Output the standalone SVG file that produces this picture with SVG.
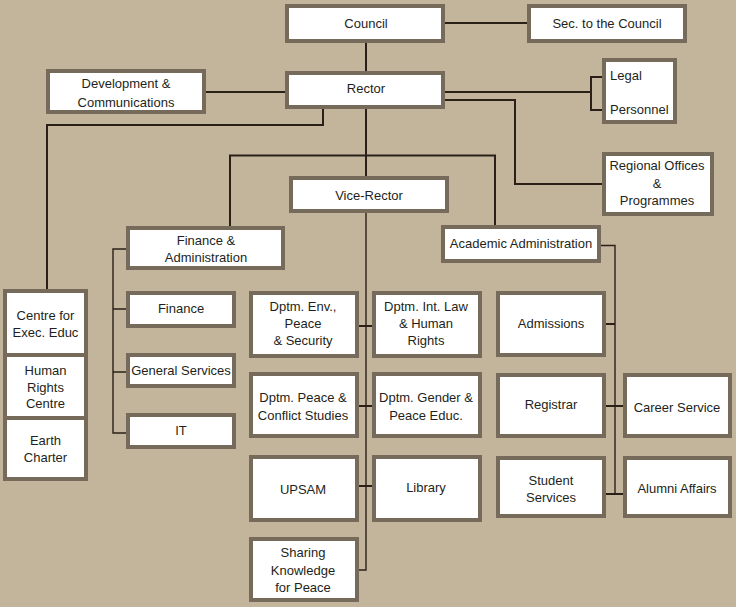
<svg xmlns="http://www.w3.org/2000/svg" width="736" height="607" viewBox="0 0 736 607">
<style>
.b{fill:#fff;stroke:#766a5b;stroke-width:4}
.t{font-family:"Liberation Sans",Arial,sans-serif;font-size:13px;fill:#231f20;text-anchor:middle}
.l{text-anchor:start}
.c{fill:none;stroke:#2a2018;stroke-width:2}
.c1{fill:none;stroke:#2a2018;stroke-width:1.4}
</style>
<rect width="736" height="607" fill="#c3b49c"/>
<g id="connectors">
<path class="c" d="M445,23H527"/>
<path class="c" d="M366,43V71"/>
<path class="c" d="M206,92H285"/>
<path class="c" d="M445,92H591"/>
<path class="c" d="M591,77V110M590,77H602M590,110H602" stroke-width="2.5"/>
<path class="c" d="M445,100H515V184H602"/>
<path class="c" d="M323,109V125H47V290"/>
<path class="c" d="M230,226V155.5H495V225"/>
<path class="c" d="M366,109V176"/>
<path class="c1" d="M366,213V570H359"/>
<path class="c" d="M359,326H372M359,406H372M359,486H372"/>
<path class="c1" d="M126,249H113V433H126M113,309H126M113,372H126"/>
<path class="c1" d="M601,245.5H615V494"/>
<path class="c" d="M606,324H615M606,406H623M606,494H623"/>
</g>
<g id="council"><rect class="b" x="287" y="6" width="156" height="35"/><text class="t" x="366" y="28">Council</text></g>
<g id="sec"><rect class="b" x="529" y="6" width="156" height="35"/><text class="t" x="607" y="28">Sec. to the Council</text></g>
<g id="rector"><rect class="b" x="287" y="73" width="156" height="34"/><text class="t" x="366" y="93">Rector</text></g>
<g id="devcom"><rect class="b" x="48" y="71" width="156" height="41"/><text class="t" x="126" y="88">Development &amp;</text><text class="t" x="126" y="107">Communications</text></g>
<g id="legal"><rect class="b" x="604" y="60" width="71" height="62"/><text class="t l" x="610" y="80">Legal</text><text class="t l" x="610" y="114">Personnel</text></g>
<g id="regional"><rect class="b" x="604" y="154" width="108" height="60"/><text class="t" x="657" y="170">Regional Offices</text><text class="t" x="657" y="188">&amp;</text><text class="t" x="657" y="205">Programmes</text></g>
<g id="vicerector"><rect class="b" x="291" y="178" width="156" height="33"/><text class="t" x="369" y="200">Vice-Rector</text></g>
<g id="finadmin"><rect class="b" x="128" y="228" width="155" height="40"/><text class="t" x="206" y="245">Finance &amp;</text><text class="t" x="206" y="262">Administration</text></g>
<g id="acadadmin"><rect class="b" x="443" y="227" width="156" height="34"/><text class="t" x="521" y="248">Academic Administration</text></g>
<g id="finance"><rect class="b" x="128" y="293" width="106" height="33"/><text class="t" x="181" y="313">Finance</text></g>
<g id="general"><rect class="b" x="128" y="355" width="106" height="31"/><text class="t" x="181" y="375">General Services</text></g>
<g id="it"><rect class="b" x="128" y="415" width="106" height="32"/><text class="t" x="181" y="435">IT</text></g>
<g id="centre"><rect class="b" x="5" y="291" width="81" height="64"/><text class="t" x="45.5" y="320">Centre for</text><text class="t" x="45.5" y="337">Exec. Educ</text></g>
<g id="humanrights"><rect class="b" x="5" y="355" width="81" height="63"/><text class="t" x="45.5" y="375">Human</text><text class="t" x="45.5" y="392">Rights</text><text class="t" x="45.5" y="408">Centre</text></g>
<g id="earth"><rect class="b" x="5" y="418" width="81" height="61"/><text class="t" x="45.5" y="445">Earth</text><text class="t" x="45.5" y="462">Charter</text></g>
<g id="dptmenv"><rect class="b" x="251" y="293" width="106" height="63"/><text class="t" x="303" y="311">Dptm. Env.,</text><text class="t" x="303" y="328">Peace</text><text class="t" x="303" y="345">&amp; Security</text></g>
<g id="dptmlaw"><rect class="b" x="374" y="293" width="106" height="63"/><text class="t" x="426" y="311">Dptm. Int. Law</text><text class="t" x="426" y="328">&amp; Human</text><text class="t" x="426" y="345">Rights</text></g>
<g id="dptmpeace"><rect class="b" x="251" y="374" width="106" height="62"/><text class="t" x="303" y="402">Dptm. Peace &amp;</text><text class="t" x="303" y="420">Conflict Studies</text></g>
<g id="dptmgender"><rect class="b" x="374" y="374" width="106" height="62"/><text class="t" x="426" y="402">Dptm. Gender &amp;</text><text class="t" x="426" y="420">Peace Educ.</text></g>
<g id="upsam"><rect class="b" x="251" y="457" width="106" height="63"/><text class="t" x="303" y="494">UPSAM</text></g>
<g id="library"><rect class="b" x="374" y="457" width="106" height="63"/><text class="t" x="426" y="492">Library</text></g>
<g id="sharing"><rect class="b" x="251" y="539" width="106" height="61"/><text class="t" x="303" y="557">Sharing</text><text class="t" x="303" y="575">Knowledge</text><text class="t" x="303" y="592">for Peace</text></g>
<g id="admissions"><rect class="b" x="498" y="293" width="106" height="62"/><text class="t" x="551" y="328">Admissions</text></g>
<g id="registrar"><rect class="b" x="498" y="375" width="106" height="61"/><text class="t" x="551" y="409">Registrar</text></g>
<g id="student"><rect class="b" x="498" y="458" width="106" height="58"/><text class="t" x="551" y="485">Student</text><text class="t" x="551" y="502">Services</text></g>
<g id="career"><rect class="b" x="625" y="375" width="105" height="61"/><text class="t" x="677" y="412">Career Service</text></g>
<g id="alumni"><rect class="b" x="625" y="458" width="105" height="58"/><text class="t" x="677" y="493">Alumni Affairs</text></g>
</svg>
